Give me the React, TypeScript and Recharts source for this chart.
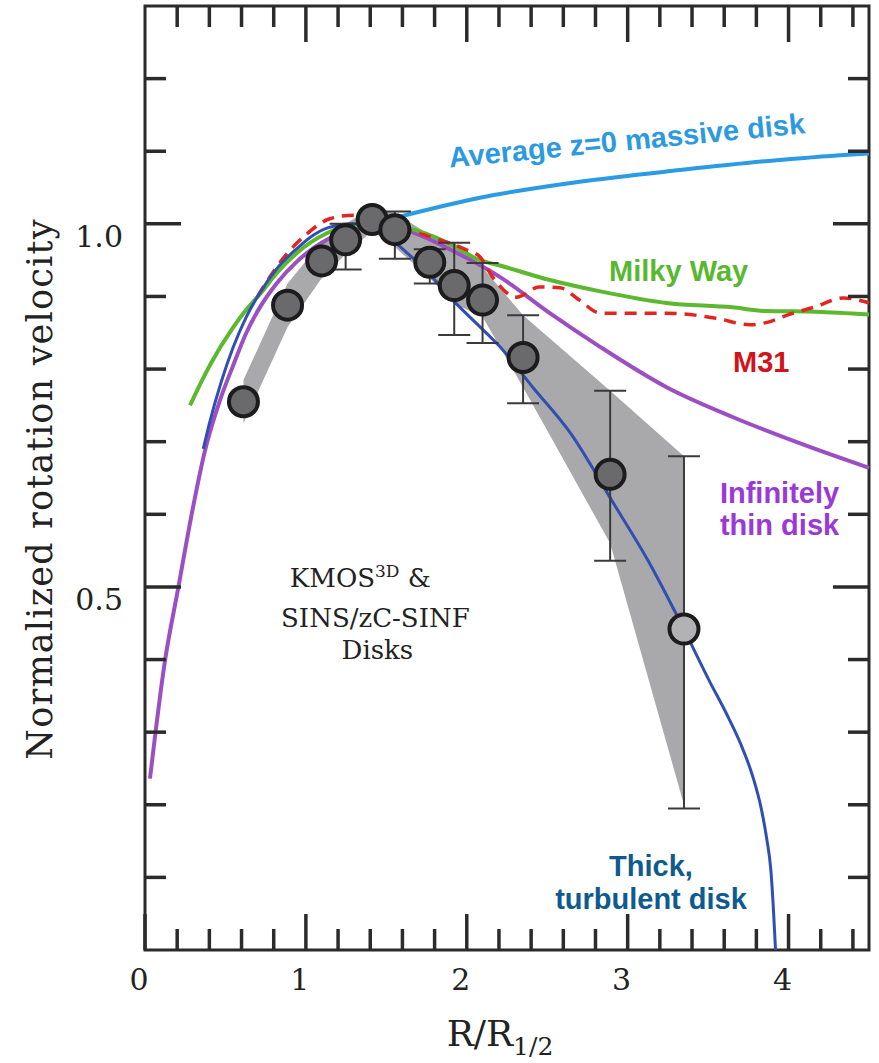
import React from "react";
import {
  Area,
  ComposedChart,
  ErrorBar,
  Line,
  ReferenceArea,
  ReferenceDot,
  ReferenceLine,
  Scatter,
  XAxis,
  YAxis
} from "recharts";

const SERIF = '"DejaVu Serif", serif';
const SANS = '"Liberation Sans", Arial, sans-serif';
const INK = "#2b2b2b";

// chart box: plot runs from y=6 to y=950
const W = 879;
const H = 1063;
const MARGIN = { top: 6, right: 9, bottom: 53, left: 45 };
const X_AXIS_H = 60;
const PLOT_H = 944;
const Y_MAX = 1.3;
const X_MAX = 4.5;

// stacked rotation curve: R/R1/2 and normalized velocity
const ptR = [0.612, 0.886, 1.098, 1.247, 1.412, 1.553, 1.77, 1.922, 2.098, 2.35, 2.891, 3.35];
const ptV = [0.755, 0.888, 0.949, 0.978, 1.006, 0.992, 0.947, 0.915, 0.895, 0.816, 0.655, 0.442];
const errLo = [null, null, null, 0.937, null, 0.952, 0.918, 0.847, 0.836, 0.753, 0.536, 0.195];
const errHi = [null, null, null, 1.0, null, 1.017, 0.965, 0.974, 0.946, 0.874, 0.77, 0.68];
const bandLo = [0.725, 0.858, 0.925, 0.958, 0.99, 0.968, 0.925, 0.89, 0.872, 0.775, 0.56, 0.2];
const bandHi = [0.785, 0.918, 0.975, 1.0, 1.022, 1.015, 0.985, 0.974, 0.94, 0.874, 0.77, 0.68];

// model curves
const thickR = [0.362, 0.4, 0.476, 0.548, 0.63, 0.714, 0.818, 0.944, 1.05, 1.13, 1.29, 1.45, 1.584, 1.75, 1.913, 2.05, 2.205, 2.41, 2.65, 2.907, 3.13, 3.342, 3.509, 3.615, 3.7, 3.776, 3.83, 3.863, 3.89, 3.905, 3.919];
const thickV = [0.69, 0.725, 0.784, 0.83, 0.872, 0.905, 0.938, 0.966, 0.985, 0.994, 1.0, 0.995, 0.969, 0.935, 0.895, 0.865, 0.831, 0.775, 0.71, 0.617, 0.535, 0.445, 0.37, 0.325, 0.285, 0.24, 0.195, 0.155, 0.11, 0.06, 0.0];

const thinR = [0.031, 0.124, 0.207, 0.29, 0.373, 0.466, 0.548, 0.63, 0.714, 0.818, 0.944, 1.13, 1.29, 1.52, 1.7, 1.894, 2.205, 2.516, 2.826, 3.242, 3.652, 4.068, 4.5];
const thinV = [0.236, 0.398, 0.499, 0.6, 0.688, 0.757, 0.805, 0.85, 0.885, 0.918, 0.948, 0.978, 0.992, 0.997, 0.985, 0.965, 0.927, 0.877, 0.831, 0.775, 0.734, 0.698, 0.664];

const mwR = [0.28, 0.34, 0.41, 0.547, 0.63, 0.714, 0.818, 0.944, 1.13, 1.3, 1.5, 1.7, 1.9, 2.08, 2.2, 2.51, 2.83, 3.24, 3.65, 3.86, 4.17, 4.5];
const mwV = [0.75, 0.778, 0.808, 0.857, 0.882, 0.903, 0.932, 0.96, 0.987, 0.999, 1.0, 0.99, 0.972, 0.95, 0.943, 0.923, 0.907, 0.891, 0.885, 0.88, 0.879, 0.875];

const m31R = [0.7, 0.733, 0.85, 1.0, 1.149, 1.3, 1.58, 1.83, 2.0, 2.08, 2.16, 2.31, 2.45, 2.58, 2.7, 2.83, 3.24, 3.55, 3.76, 3.86, 4.0, 4.17, 4.34, 4.5];
const m31V = [0.9, 0.912, 0.95, 0.985, 1.007, 1.012, 0.995, 0.978, 0.964, 0.955, 0.927, 0.899, 0.913, 0.912, 0.895, 0.877, 0.877, 0.87, 0.861, 0.864, 0.875, 0.886, 0.898, 0.891];

const localR = [1.584, 2.081, 2.702, 3.323, 3.944, 4.42, 4.5];
const localV = [1.01, 1.036, 1.058, 1.074, 1.088, 1.096, 1.097];

// axis ticks
const xTicks = [0, 0.2, 0.4, 0.6, 0.8, 1, 1.2, 1.4, 1.6, 1.8, 2, 2.2, 2.4, 2.6, 2.8, 3, 3.2, 3.4, 3.6, 3.8, 4, 4.2, 4.4];
const yTicks = [0.1, 0.2, 0.3, 0.4, 0.5, 0.6, 0.7, 0.8, 0.9, 1.0, 1.1, 1.2];

const pairs = (r: number[], v: number[]) => r.map((x, i) => ({ x, y: v[i] }));

const thickData = pairs(thickR, thickV);
const thinData = pairs(thinR, thinV);
const mwData = pairs(mwR, mwV);
const m31Data = pairs(m31R, m31V);
const localData = pairs(localR, localV);
const bandData = ptR.map((x, i) => ({ x, range: [bandLo[i], bandHi[i]] }));
const last = ptR.length - 1;
const innerPts = pairs(ptR, ptV).slice(0, last);
const outerPts = pairs(ptR, ptV).slice(last);
const errData = ptR
  .map((x, i) => ({
    x,
    y: ptV[i],
    err: [ptV[i] - (errLo[i] ?? ptV[i]), (errHi[i] ?? ptV[i]) - ptV[i]],
    has: errLo[i] !== null
  }))
  .filter((d) => d.has);

const MAJOR = 36;
const MINOR = 21;
const isInt = (v: number) => Math.abs(v - Math.round(v)) < 1e-6;
const isHalf = (v: number) => Math.abs(v * 2 - Math.round(v * 2)) < 1e-6;
const tickLen = (v: number) => (isInt(v) ? MAJOR : MINOR);

function BottomTick({ x, y, payload }: any) {
  return (
    <g>
      <line x1={x} x2={x} y1={y} y2={y - tickLen(payload.value)} stroke={INK} strokeWidth={3.5} />
      {isInt(payload.value) && (
        <text x={x - 6} y={y + 40} textAnchor="middle" fontFamily={SERIF} fontSize={30} fill="#222">
          {payload.value}
        </text>
      )}
    </g>
  );
}

function LeftTick({ x, y, payload }: any) {
  const major = isHalf(payload.value);
  return (
    <g>
      <line x1={x} x2={x + (major ? MAJOR : MINOR)} y1={y} y2={y} stroke={INK} strokeWidth={3.5} />
      {major && (
        <text x={x - 22} y={y + 23} textAnchor="end" fontFamily={SERIF} fontSize={30} fill="#222">
          {payload.value.toFixed(1)}
        </text>
      )}
    </g>
  );
}

function RightTick({ x, y, payload }: any) {
  const major = isHalf(payload.value);
  return <line x1={x} x2={x - (major ? MAJOR : MINOR)} y1={y} y2={y} stroke={INK} strokeWidth={3.5} />;
}

const yTitle = () => (
  <text
    transform="translate(52 489) rotate(-90)"
    textAnchor="middle"
    fontFamily={SERIF}
    fontSize={35}
    letterSpacing={1.2}
    fill="#222"
  >
    Normalized rotation velocity
  </text>
);

const xTitle = () => (
  <text x={500} y={1046} textAnchor="middle" fontFamily={SERIF} fontSize={36} fill="#222">
    R/R
    <tspan fontSize={25} dy={9}>1/2</tspan>
  </text>
);

type NoteOpts = { lines: string[]; color: string; angle?: number; gap?: number; size?: number };

const note = ({ lines, color, angle = 0, gap = 32, size = 29 }: NoteOpts) => (props: any) => {
  const vb = props.viewBox || { x: 0, y: 0, width: 0, height: 0 };
  const cx = vb.x + vb.width / 2;
  const cy = vb.y + vb.height / 2;
  const top = cy - ((lines.length - 1) * gap) / 2 + size * 0.36;
  return (
    <text
      transform={angle ? `rotate(${angle} ${cx} ${cy})` : undefined}
      textAnchor="middle"
      fill={color}
      fontFamily={SANS}
      fontWeight={700}
      fontSize={size}
    >
      {lines.map((l, i) => (
        <tspan key={l} x={cx} y={top + i * gap}>
          {l}
        </tspan>
      ))}
    </text>
  );
};

const surveyNote = (props: any) => {
  const vb = props.viewBox || { x: 0, y: 0, width: 0, height: 0 };
  const cx = vb.x + vb.width / 2;
  const cy = vb.y + vb.height / 2;
  return (
    <text textAnchor="middle" fontFamily={SERIF} fontSize={26} fill="#222">
      <tspan x={cx - 15} y={cy - 31}>
        KMOS
        <tspan fontSize={17} dy={-10}>3D</tspan>
        <tspan dy={10}> &amp;</tspan>
      </tspan>
      <tspan x={cx} y={cy + 9}>SINS/zC-SINF</tspan>
      <tspan x={cx + 2} y={cy + 41}>Disks</tspan>
    </text>
  );
};

const Dot = (fill: string) => (props: any) => (
  <circle cx={props.cx} cy={props.cy} r={14.5} fill={fill} stroke="#1c1c1c" strokeWidth={4} />
);

// inward ticks hanging from the top edge, lengths in px converted to value units
const pxToY = Y_MAX / PLOT_H;

export default function App() {
  return (
    <div style={{ position: "absolute", left: 0, top: 0, width: W, height: H, background: "#fff" }}>
      <ComposedChart width={W} height={H} margin={MARGIN}>
        <XAxis
          type="number"
          dataKey="x"
          domain={[0, X_MAX]}
          ticks={xTicks}
          interval={0}
          tickLine={false}
          tickSize={0}
          tickMargin={0}
          tick={BottomTick}
          axisLine={false}
          height={X_AXIS_H}
          label={{ content: xTitle }}
        />
        <YAxis
          type="number"
          dataKey="y"
          domain={[0, Y_MAX]}
          allowDataOverflow
          ticks={yTicks}
          interval={0}
          tickLine={false}
          tickSize={0}
          tickMargin={0}
          tick={LeftTick}
          axisLine={false}
          width={100}
          label={{ content: yTitle }}
        />
        <YAxis
          yAxisId="right"
          orientation="right"
          type="number"
          domain={[0, Y_MAX]}
          allowDataOverflow
          ticks={yTicks}
          interval={0}
          tickLine={false}
          tickSize={0}
          tickMargin={0}
          tick={RightTick}
          axisLine={false}
          width={1}
        />

        <Area
          data={bandData}
          dataKey="range"
          type="linear"
          fill="#a9a9ab"
          fillOpacity={1}
          stroke="none"
          isAnimationActive={false}
          activeDot={false}
        />

        <Line data={thinData} dataKey="y" type="monotone" stroke="#9b4fc2" strokeWidth={4} dot={false} activeDot={false} isAnimationActive={false} />
        <Line data={mwData} dataKey="y" type="monotone" stroke="#5cb82e" strokeWidth={4} dot={false} activeDot={false} isAnimationActive={false} />
        <Line data={m31Data} dataKey="y" type="monotone" stroke="#e2261f" strokeWidth={3.5} strokeDasharray="12 8" dot={false} activeDot={false} isAnimationActive={false} />
        <Line data={localData} dataKey="y" type="monotone" stroke="#2b9be3" strokeWidth={4} dot={false} activeDot={false} isAnimationActive={false} />
        <Line data={thickData} dataKey="y" type="monotone" stroke="#2f4fb3" strokeWidth={3} dot={false} activeDot={false} isAnimationActive={false} />

        <Scatter data={errData} dataKey="y" shape={() => <g />} isAnimationActive={false}>
          <ErrorBar dataKey="err" direction="y" width={16} stroke="#3a3a3a" strokeWidth={2} />
        </Scatter>
        <Scatter data={innerPts} dataKey="y" shape={Dot("#6a6a6c")} isAnimationActive={false} />
        <Scatter data={outerPts} dataKey="y" shape={Dot("#b2b2b4")} isAnimationActive={false} />

        {/* plot frame */}
        <ReferenceArea x1={0} x2={X_MAX} y1={0} y2={Y_MAX} fill="none" stroke={INK} strokeWidth={3} ifOverflow="visible" />
        {xTicks.slice(1).map((v) => (
          <ReferenceLine
            key={`top-${v}`}
            segment={[
              { x: v, y: Y_MAX },
              { x: v, y: Y_MAX - tickLen(v) * pxToY }
            ]}
            stroke={INK}
            strokeWidth={3.5}
            ifOverflow="visible"
          />
        ))}

        <ReferenceDot x={2.994} y={1.1155} r={1} fill="none" stroke="none"
          label={{ content: note({ lines: ["Average z=0 massive disk"], color: "#2d9ae0", angle: -5.5 }) }} />
        <ReferenceDot x={3.317} y={0.935} r={1} fill="none" stroke="none"
          label={{ content: note({ lines: ["Milky Way"], color: "#58b830" }) }} />
        <ReferenceDot x={3.83} y={0.81} r={1} fill="none" stroke="none"
          label={{ content: note({ lines: ["M31"], color: "#d0141a" }) }} />
        <ReferenceDot x={3.944} y={0.608} r={1} fill="none" stroke="none"
          label={{ content: note({ lines: ["Infinitely", "thin disk"], color: "#9a38d8" }) }} />
        <ReferenceDot x={3.145} y={0.094} r={1} fill="none" stroke="none"
          label={{ content: note({ lines: ["Thick,", "turbulent disk"], color: "#0f5a8e", gap: 33 }) }} />
        <ReferenceDot x={1.432} y={0.457} r={1} fill="none" stroke="none" label={{ content: surveyNote }} />
      </ComposedChart>
    </div>
  );
}
